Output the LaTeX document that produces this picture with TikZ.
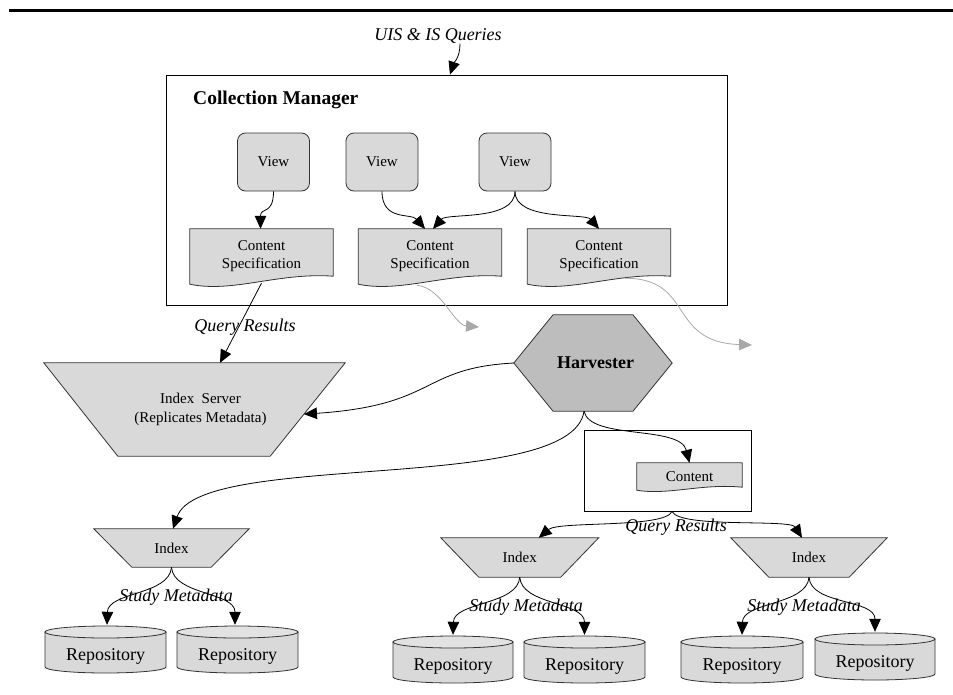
\documentclass[tikz,border=0pt]{standalone}
\usepackage{fontspec}
\setmainfont{Liberation Serif}
\usetikzlibrary{arrows.meta,calc}
\pgfdeclarelayer{bg}
\pgfsetlayers{bg,main}
\definecolor{boxgray}{HTML}{D9D9D9}
\definecolor{repotop}{HTML}{E2E2E2}
\definecolor{hexgray}{HTML}{BDBDBD}
\definecolor{lightarrow}{HTML}{A8A8A8}
\definecolor{edgegray}{HTML}{333333}
\tikzset{
  lbl/.style={font=\fontsize{18}{21}\selectfont\itshape, inner sep=0pt},
  titletext/.style={font=\fontsize{19.5}{22}\selectfont\bfseries, inner sep=0pt},
  viewbox/.style={draw=edgegray, line width=0.8pt, fill=boxgray, rounded corners=8pt, minimum width=72pt, minimum height=58pt, inner sep=0pt, font=\fontsize{15}{18}\selectfont},
  docbox/.style={minimum width=143pt, minimum height=55pt, inner sep=0pt, align=center, font=\fontsize{15}{18}\selectfont},
  trapbox/.style={inner sep=0pt, align=center, font=\fontsize{15}{19}\selectfont},
  repotext/.style={minimum height=34pt, inner sep=0pt, font=\fontsize{18}{21}\selectfont},
  flow/.style={-{Triangle[length=13pt,width=11.5pt]}, line width=0.8pt},
  grayflow/.style={-{Triangle[length=13pt,width=11.5pt]}, draw=lightarrow, fill=none, line width=0.8pt},
  shapeline/.style={draw=edgegray, line width=0.8pt},
}
% document shape: node, right-end rise, wave amplitude
\newcommand\docshape[3]{%
  \draw[shapeline, fill=boxgray] (#1.south west) -- (#1.north west) -- (#1.north east) -- ([yshift=#2]#1.south east)
    .. controls ($(#1.south west)!0.62!(#1.south east)+(0,-#3)$) and ($(#1.south west)!0.3!(#1.south east)+(0,0.75*#3)$) .. (#1.south west) -- cycle;}
% repository: name, x0, x1, top
\newcommand\repo[4]{%
  \pgfmathsetmacro\rrx{(#3-#2)/2}%
  \pgfmathsetmacro\rcx{(#3+#2)/2}%
  \node[repotext, minimum width=\rrx*2pt] (#1) at (\rcx,#4+30) {Repository};
  \begin{pgfonlayer}{bg}
    \draw[shapeline, fill=boxgray] (#2,#4+6) -- (#2,#4+41) arc[start angle=180, end angle=360, x radius=\rrx pt, y radius=6pt] -- (#3,#4+6) -- cycle;
    \draw[shapeline, fill=repotop] (\rcx,#4+6) ellipse[x radius=\rrx pt, y radius=6pt];
  \end{pgfonlayer}}
\begin{document}
\begin{tikzpicture}[x=1pt,y=-1pt]
\useasboundingbox (0,0) rectangle (953,694);
\draw[line width=3pt] (9,10) -- (953,10);

% ---------- Collection Manager ----------
\node[draw=black, line width=0.9pt, minimum width=561pt, minimum height=230pt, inner sep=0pt] (cm) at (446.5,190) {};
\node[titletext, anchor=west] (cmt) at (193,100) {Collection Manager};
\node[lbl] (uis) at (438,36) {UIS \& IS Queries};
\draw[flow] ([xshift=22pt]uis.south) .. controls +(0,14) and +(4,-12) .. ([xshift=3.5pt]cm.north);

\node[viewbox] (v1) at (273.5,162) {View};
\node[viewbox] (v2) at (382,162) {View};
\node[viewbox] (v3) at (515,162) {View};

\node[docbox] (cs1) at (261.5,256.5) {Content\\Specification};
\node[docbox] (cs2) at (430,256.5) {Content\\Specification};
\node[docbox] (cs3) at (599,256.5) {Content\\Specification};
\begin{pgfonlayer}{bg}
  \docshape{cs1}{8pt}{12}
  \docshape{cs2}{8pt}{12}
  \docshape{cs3}{8pt}{12}
\end{pgfonlayer}

\draw[flow] (v1.south) .. controls +(0,24) and +(0,-22) .. ([xshift=-1pt]cs1.north);
\draw[flow] (v2.south) .. controls +(0,30) and +(-14,-16) .. ([xshift=-5pt]cs2.north);
\draw[flow] (v3.south) .. controls +(0,30) and +(14,-16) .. ([xshift=3pt]cs2.north);
\draw[flow] (v3.south) .. controls +(0,30) and +(-14,-16) .. (cs3.north);

% gray outgoing arrows
\coordinate (g1) at (479,327);
\coordinate (g2) at (752,345);
\draw[grayflow] ($(cs2.south west)!0.41!(cs2.south east)+(0,1)$) .. controls +(25,3) and +(-25,-2) .. (g1);
\draw[grayflow] ($(cs3.south west)!0.68!(cs3.south east)+(0,-6)$) .. controls +(70,0) and +(-85,-3) .. (g2);

% ---------- Index Server ----------
\node[trapbox, minimum width=301pt, minimum height=93pt] (iserv) at (194.5,409.5) {\hspace*{12pt}Index~~Server\\\hspace*{12pt}(Replicates Metadata)};
\begin{pgfonlayer}{bg}
  \draw[shapeline, fill=boxgray] (iserv.north west) -- (iserv.north east) -- ([xshift=-75pt]iserv.south east) -- ([xshift=74pt]iserv.south west) -- cycle;
\end{pgfonlayer}
\draw[flow] ($(cs1.south)+(0,-1)$) -- ([xshift=25.5pt]iserv.north);
\node[lbl] (qr1) at (245,327) {Query Results};

% ---------- Harvester ----------
\node[font=\fontsize{18}{21}\selectfont\bfseries, minimum width=158pt, minimum height=96pt, inner sep=0pt] (harv) at (593,363) {\hspace*{5pt}Harvester};
\begin{pgfonlayer}{bg}
  \draw[shapeline, fill=hexgray] (harv.west) -- ([xshift=-40pt]harv.north) -- ([xshift=40pt]harv.north) -- (harv.east) -- ([xshift=40pt]harv.south) -- ([xshift=-40pt]harv.south) -- cycle;
\end{pgfonlayer}
\draw[flow] (harv.west) .. controls +(-94,5) and +(134,-9) .. ($(iserv.north east)!0.55!([xshift=-75pt]iserv.south east)$);

% ---------- Content box ----------
\node[draw=black, line width=0.9pt, minimum width=167pt, minimum height=81pt, inner sep=0pt] (cbox) at (667.5,470.5) {};
\node[inner sep=0pt, minimum width=105pt, minimum height=27pt, font=\fontsize{15}{18}\selectfont] (content) at (689.5,476.5) {Content};
\begin{pgfonlayer}{bg}
  \docshape{content}{3pt}{7}
\end{pgfonlayer}
\draw[flow] ([xshift=-9pt]harv.south) .. controls +(6,29) and +(-9.5,-38) .. (content.north);

% ---------- Indexes ----------
\node[trapbox, minimum width=155pt, minimum height=38pt] (ix1) at (171.5,548) {Index};
\node[trapbox, minimum width=157.5pt, minimum height=39pt] (ix2) at (519.75,557.5) {Index};
\node[trapbox, minimum width=156pt, minimum height=39pt] (ix3) at (809,557.5) {Index};
\begin{pgfonlayer}{bg}
  \foreach \ix in {ix1,ix2,ix3}{
    \draw[shapeline, fill=boxgray] (\ix.north west) -- (\ix.north east) -- ([xshift=-38pt]\ix.south east) -- ([xshift=38pt]\ix.south west) -- cycle;
  }
\end{pgfonlayer}
\draw[flow] ([xshift=-9pt]harv.south) .. controls +(-12,84) and +(27,-79) .. ([xshift=1.5pt]ix1.north);

\draw[flow] ([xshift=4.5pt]cbox.south) .. controls +(-7,17) and +(20,-17) .. ([xshift=19pt]ix2.north);
\draw[flow] ([xshift=4.5pt]cbox.south) .. controls +(8,17) and +(-12,-19) .. ([xshift=-7pt]ix3.north);
\node[lbl] (qr2) at (676,527) {Query Results};

% ---------- Repositories ----------
\repo{r1}{45}{166}{626}
\repo{r2}{177}{298}{626}
\repo{r3}{393}{513}{636}
\repo{r4}{524}{645}{636}
\repo{r5}{681}{803}{636}
\repo{r6}{815}{935}{633}

\draw[flow] (ix1.south) .. controls +(-2,28) and +(1,-33) .. ([xshift=1.5pt,yshift=14pt]r1.north);
\draw[flow] (ix1.south) .. controls +(2,28) and +(0,-33) .. ([xshift=-2.5pt,yshift=14pt]r2.north);
\draw[flow] (ix2.south) .. controls +(-2,28) and +(1,-33) .. ([yshift=14pt]r3.north);
\draw[flow] (ix2.south) .. controls +(2,28) and +(0,-33) .. ([yshift=14pt]r4.north);
\draw[flow] (ix3.south) .. controls +(-2,28) and +(1,-33) .. ([yshift=14pt]r5.north);
\draw[flow] (ix3.south) .. controls +(2,28) and +(0,-33) .. ([yshift=14pt]r6.north);

\node[lbl] (sm1) at (176,597) {Study Metadata};
\node[lbl] (sm2) at (526,607) {Study Metadata};
\node[lbl] (sm3) at (804,607) {Study Metadata};
\end{tikzpicture}
\end{document}
